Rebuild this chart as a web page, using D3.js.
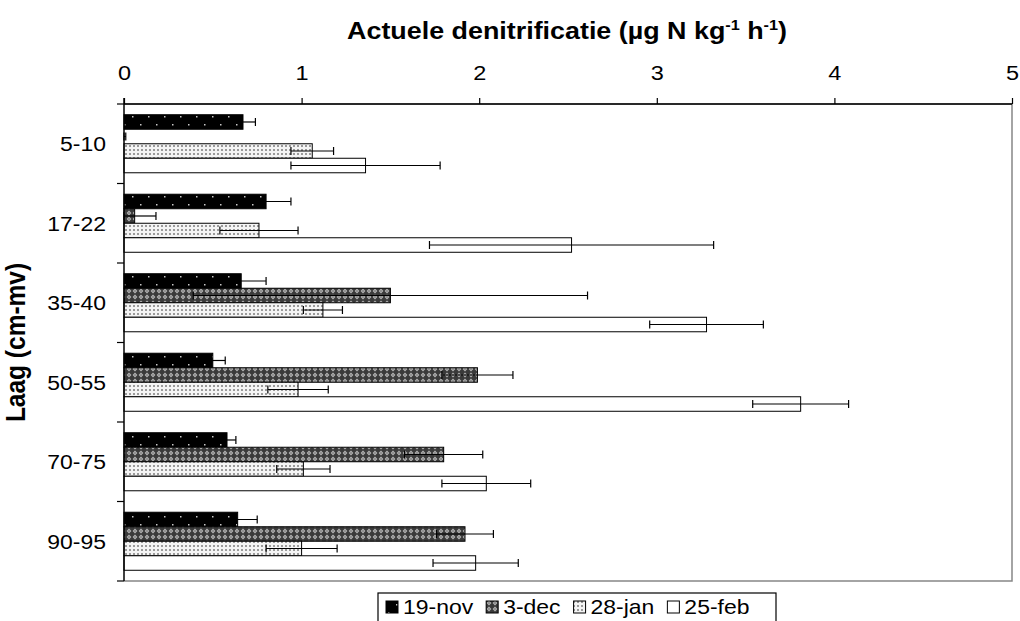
<!DOCTYPE html>
<html>
<head>
<meta charset="utf-8">
<script src="https://cdn.jsdelivr.net/npm/d3@7"></script>
<style>
  html, body { margin: 0; padding: 0; background: #fff; }
  svg { display: block; font-family: Arial, "Liberation Sans", sans-serif; }
</style>
</head>
<body>
<svg id="chart" width="1020" height="621"></svg>
<script>
// Soil layers (cm below surface) and sampling dates
const layers = ["5-10", "17-22", "35-40", "50-55", "70-75", "90-95"];
const dates = ["19-nov", "3-dec", "28-jan", "25-feb"];

// Actual denitrification per layer (µg N kg-1 h-1), one array per date
const nov19 = [0.67, 0.80, 0.66, 0.50, 0.58, 0.64];
const dec3  = [0.00, 0.06, 1.50, 1.99, 1.80, 1.92];
const jan28 = [1.06, 0.76, 1.12, 0.98, 1.01, 1.00];
const feb25 = [1.36, 2.52, 3.28, 3.81, 2.04, 1.98];

// Standard errors (half-width of error bars)
const nov19Err = [0.07, 0.14, 0.14, 0.07, 0.05, 0.11];
const dec3Err  = [0.01, 0.12, 1.11, 0.20, 0.22, 0.16];
const jan28Err = [0.12, 0.22, 0.11, 0.17, 0.15, 0.20];
const feb25Err = [0.42, 0.80, 0.32, 0.27, 0.25, 0.24];

const xTicks = [0, 1, 2, 3, 4, 5];

const seriesValues = [nov19, dec3, jan28, feb25];
const seriesErrors = [nov19Err, dec3Err, jan28Err, feb25Err];

const rows = [];
layers.forEach((layer, i) => {
  dates.forEach((date, j) => {
    rows.push({ layer, date, value: seriesValues[j][i], err: seriesErrors[j][i] });
  });
});

// Text is drawn slightly wider than its nominal size
const STRETCH = 1.12;

const svg = d3.select("#chart");
const defs = svg.append("defs");

// Fill patterns per date
const pNov = defs.append("pattern").attr("id", "pat-nov")
  .attr("patternUnits", "userSpaceOnUse").attr("width", 16).attr("height", 16);
pNov.append("rect").attr("width", 16).attr("height", 16).attr("fill", "#000");
pNov.append("rect").attr("x", 4).attr("y", 4).attr("width", 1.5).attr("height", 1.5).attr("fill", "#c8c8c8");
pNov.append("rect").attr("x", 12).attr("y", 12).attr("width", 1.5).attr("height", 1.5).attr("fill", "#c8c8c8");

const pDec = defs.append("pattern").attr("id", "pat-dec")
  .attr("patternUnits", "userSpaceOnUse").attr("width", 6).attr("height", 6);
pDec.append("rect").attr("width", 6).attr("height", 6).attr("fill", "#3a3a3a");
pDec.append("polygon").attr("points", "3,0.6 5.4,3 3,5.4 0.6,3").attr("fill", "#b4b4b4");
pDec.append("rect").attr("x", 2.4).attr("y", 2.4).attr("width", 1.2).attr("height", 1.2).attr("fill", "#5a5a5a");

const pJan = defs.append("pattern").attr("id", "pat-jan")
  .attr("patternUnits", "userSpaceOnUse").attr("width", 4).attr("height", 4);
pJan.append("rect").attr("width", 4).attr("height", 4).attr("fill", "#f4f4f4");
pJan.append("rect").attr("x", 1).attr("y", 1).attr("width", 2).attr("height", 2).attr("fill", "#9a9a9a");

const fills = { "19-nov": "url(#pat-nov)", "3-dec": "url(#pat-dec)", "28-jan": "url(#pat-jan)", "25-feb": "#fff" };

const plot = { left: 124, right: 1012, top: 104, bottom: 581 };

const x = d3.scaleLinear().domain([0, 5]).range([plot.left, plot.right]);
const y = d3.scaleBand().domain(layers).range([plot.top, plot.bottom]).paddingInner(0.27).paddingOuter(0.135);
const ySub = d3.scaleBand().domain(dates).range([0, y.bandwidth()]);

// Plot area frame (right and bottom edges in gray)
svg.append("path")
  .attr("d", `M${plot.left},${plot.top}H${plot.right}V${plot.bottom}H${plot.left}`)
  .attr("fill", "none").attr("stroke", "#868686").attr("stroke-width", 1.5);

// Bars
const bars = svg.append("g");
bars.selectAll("rect").data(rows).join("rect")
  .attr("x", x(0))
  .attr("y", d => y(d.layer) + ySub(d.date))
  .attr("width", d => x(d.value) - x(0))
  .attr("height", ySub.bandwidth())
  .attr("fill", d => fills[d.date])
  .attr("stroke", "#000").attr("stroke-width", 1);

// Error bars
const eb = svg.append("g").attr("stroke", "#000").attr("stroke-width", 1.2);
rows.forEach(d => {
  const cy = y(d.layer) + ySub(d.date) + ySub.bandwidth() / 2;
  const x0 = x(Math.max(0, d.value - d.err)), x1 = x(d.value + d.err);
  eb.append("line").attr("x1", x0).attr("x2", x1).attr("y1", cy).attr("y2", cy);
  eb.append("line").attr("x1", x0).attr("x2", x0).attr("y1", cy - 4).attr("y2", cy + 4);
  eb.append("line").attr("x1", x1).attr("x2", x1).attr("y1", cy - 4).attr("y2", cy + 4);
});

// Top value axis
const xAxis = d3.axisTop(x).tickValues(xTicks).tickSize(6).tickFormat(d3.format("d"));
const gx = svg.append("g").attr("transform", `translate(0,${plot.top})`).call(xAxis);
gx.select(".domain").attr("stroke", "#000").attr("stroke-width", 1.5).attr("d", `M${plot.left},0H${plot.right}`);
gx.selectAll(".tick line").attr("stroke", "#000").attr("stroke-width", 1.2);
gx.selectAll(".tick text")
  .attr("y", 0).attr("dy", 0)
  .attr("transform", `translate(0,-24) scale(${STRETCH},1)`)
  .attr("font-size", 21).attr("fill", "#000")
  .attr("font-family", "Arial, 'Liberation Sans', sans-serif");

// Left category axis with ticks at band boundaries
const gy = svg.append("g");
gy.append("line").attr("x1", plot.left).attr("x2", plot.left)
  .attr("y1", plot.top - 6).attr("y2", plot.bottom)
  .attr("stroke", "#000").attr("stroke-width", 1.5);
const step = (plot.bottom - plot.top) / layers.length;
d3.range(layers.length + 1).forEach(i => {
  const yy = plot.top + i * step;
  gy.append("line").attr("x1", plot.left - 7).attr("x2", plot.left)
    .attr("y1", yy).attr("y2", yy).attr("stroke", "#000").attr("stroke-width", 1.2);
});
gy.selectAll("text.cat").data(layers).join("text").attr("class", "cat")
  .attr("transform", (d, i) => `translate(106,${plot.top + (i + 0.5) * step}) scale(${STRETCH},1)`)
  .attr("dy", "0.36em")
  .attr("text-anchor", "end")
  .attr("font-size", 20.5)
  .text(d => d);

// Axis titles
const title = svg.append("text")
  .attr("transform", `translate(${(plot.left + plot.right) / 2 - 1},39) scale(${STRETCH},1)`)
  .attr("text-anchor", "middle").attr("font-size", 24).attr("font-weight", "bold");
title.append("tspan").text("Actuele denitrificatie (µg N kg");
title.append("tspan").attr("font-size", 14.5).attr("dy", -9.5).text("-1");
title.append("tspan").attr("dy", 9.5).text(" h");
title.append("tspan").attr("font-size", 14.5).attr("dy", -9.5).text("-1");
title.append("tspan").attr("dy", 9.5).text(")");

svg.append("text")
  .attr("transform", `translate(25,${(plot.top + plot.bottom) / 2}) scale(${STRETCH},1) rotate(-90)`)
  .attr("text-anchor", "middle").attr("font-size", 24.5).attr("font-weight", "bold")
  .text("Laag (cm-mv)");

// Legend
const legend = svg.append("g");
legend.append("rect").attr("x", 378).attr("y", 593).attr("width", 398).attr("height", 30)
  .attr("fill", "#fff").attr("stroke", "#000").attr("stroke-width", 1.2);
let lx = 386;
dates.forEach(d => {
  legend.append("rect").attr("x", lx).attr("y", 601).attr("width", 12).attr("height", 12)
    .attr("fill", fills[d]).attr("stroke", "#000").attr("stroke-width", 1);
  const t = legend.append("text")
    .attr("transform", `translate(${lx + 17},614) scale(${STRETCH},1)`)
    .attr("font-size", 20.5).text(d);
  lx += 17 + t.node().getComputedTextLength() * STRETCH + 13;
});
</script>
</body>
</html>
